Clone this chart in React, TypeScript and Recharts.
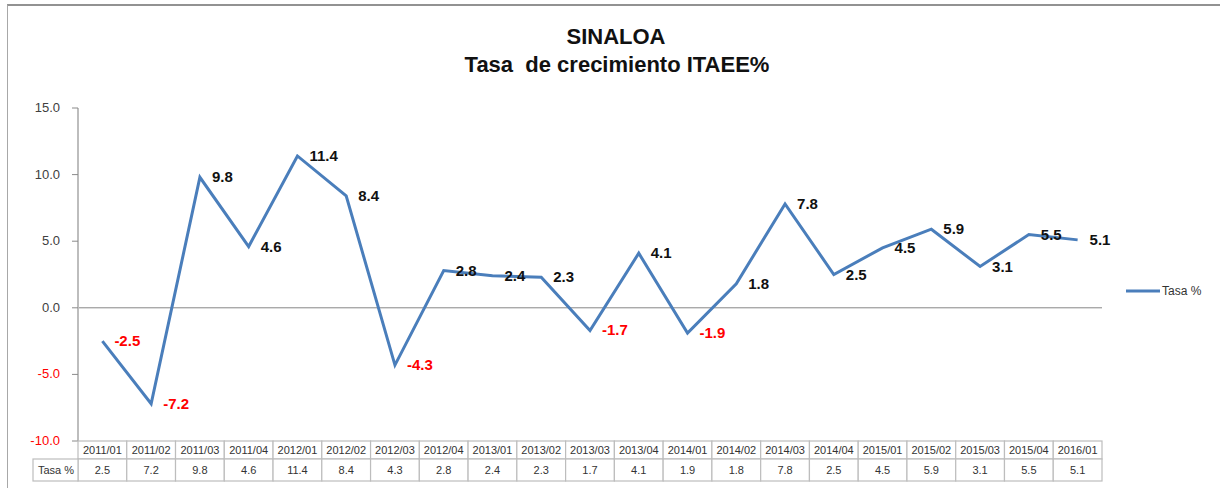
import React from 'react';
import { LineChart, Line, XAxis, YAxis, ReferenceLine, Legend, LabelList } from 'recharts';

const periods = [
  '2011/01', '2011/02', '2011/03', '2011/04', '2012/01', '2012/02', '2012/03',
  '2012/04', '2013/01', '2013/02', '2013/03', '2013/04', '2014/01', '2014/02',
  '2014/03', '2014/04', '2015/01', '2015/02', '2015/03', '2015/04', '2016/01',
];
const tasa = [
  -2.5, -7.2, 9.8, 4.6, 11.4, 8.4, -4.3, 2.8, 2.4, 2.3, -1.7, 4.1, -1.9, 1.8,
  7.8, 2.5, 4.5, 5.9, 3.1, 5.5, 5.1,
];
const yTicks = [-10, -5, 0, 5, 10, 15];

const chartData = periods.map((p, i) => ({ period: p, tasa: tasa[i] }));

const W = 1220;
const H = 488;
const MARGIN = { top: 108, right: 118, bottom: 0, left: 8 };
const Y_W = 70;
const X_H = 47;
const PLOT_W = W - MARGIN.left - MARGIN.right - Y_W;
const COL_W = PLOT_W / periods.length;
const ROW1 = 18;
const ROW2 = 22;

const BLUE = '#4A7EBB';
const GRID = '#BDBDBD';
const FONT = '"Liberation Sans", Arial, sans-serif';

const YTick = (props: any) => {
  const { x, y, payload } = props;
  return (
    <text x={x} y={y} dy={4} textAnchor="end" fontSize={13} fontFamily={FONT}
      fill={payload.value < 0 ? '#FF0000' : '#404040'}>
      {payload.value.toFixed(1)}
    </text>
  );
};

// x axis drawn as the data table under the plot
const TableTick = (props: any) => {
  const { x, y, payload, index } = props;
  const left = x - COL_W / 2;
  const v = tasa[index];
  return (
    <g>
      <rect x={left} y={y} width={COL_W} height={ROW1} fill="#fff" stroke={GRID} strokeWidth={1.2} />
      <rect x={left} y={y + ROW1} width={COL_W} height={ROW2} fill="#fff" stroke={GRID} strokeWidth={1.2} />
      <text x={x} y={y + ROW1 / 2 + 4} textAnchor="middle" fontSize={11} fontFamily={FONT} fill="#333">
        {payload.value}
      </text>
      <text x={x} y={y + ROW1 + ROW2 / 2 + 4} textAnchor="middle" fontSize={11} fontFamily={FONT} fill="#333">
        {v !== undefined ? Math.abs(v).toFixed(1) : ''}
      </text>
      {index === 0 && (
        <g>
          <rect x={left - 45} y={y + ROW1} width={45} height={ROW2} fill="#fff" stroke={GRID} strokeWidth={1.2} />
          <text x={left - 22} y={y + ROW1 + ROW2 / 2 + 4} textAnchor="middle" fontSize={11} fontFamily={FONT} fill="#333">
            Tasa %
          </text>
        </g>
      )}
    </g>
  );
};

const PointLabel = (props: any) => {
  const { x, y, value } = props;
  return (
    <text x={x + 12} y={y + 5} textAnchor="start" fontSize={15} fontWeight="bold" fontFamily={FONT}
      fill={value < 0 ? '#FF0000' : '#111'}>
      {Number(value).toFixed(1)}
    </text>
  );
};

const LegendBox = () => (
  <svg width={100} height={20}>
    <line x1={6} x2={40} y1={10} y2={10} stroke={BLUE} strokeWidth={3} />
    <text x={42} y={14} fontSize={12} fontFamily={FONT} fill="#333">Tasa %</text>
  </svg>
);

export default function App() {
  return (
    <div style={{ position: 'absolute', left: 0, top: 0, width: W, height: H, background: '#fff', overflow: 'hidden' }}>
      <div style={{ position: 'absolute', left: 7, top: 4, width: W, height: H, borderTop: '2px solid #929292', borderLeft: '1px solid #a8a8a8' }} />
      <div style={{ position: 'absolute', left: 0, top: 26, width: 1232, textAlign: 'center', fontFamily: FONT, fontWeight: 'bold', fontSize: 22, lineHeight: '22px', color: '#111' }}>
        SINALOA
      </div>
      <div style={{ position: 'absolute', left: 0, top: 54, width: 1234, textAlign: 'center', fontFamily: FONT, fontWeight: 'bold', fontSize: 22, lineHeight: '22px', color: '#111', whiteSpace: 'pre' }}>
        {'Tasa  de crecimiento ITAEE%'}
      </div>
      <div style={{ position: 'absolute', left: 0, top: 0 }}>
        <LineChart width={W} height={H} data={chartData} margin={MARGIN}>
          <XAxis dataKey="period" height={X_H} interval={0} axisLine={false} tickLine={false}
            padding={{ left: COL_W / 2, right: COL_W / 2 }}
            tickSize={0} tickMargin={0} tick={<TableTick />} />
          <YAxis width={Y_W} domain={[-10, 15]} ticks={yTicks} interval={0}
            axisLine={{ stroke: GRID, strokeWidth: 2 }} tickLine={{ stroke: '#8a8a8a' }}
            tickSize={6} tickMargin={12} tick={<YTick />} />
          <ReferenceLine y={0} stroke="#878787" strokeWidth={1} />
          <Legend layout="horizontal" verticalAlign="middle" align="center"
            wrapperStyle={{ left: 1120, top: 281, width: 100 }} content={<LegendBox />} />
          <Line type="linear" dataKey="tasa" name="Tasa %" stroke={BLUE} strokeWidth={3}
            dot={false} isAnimationActive={false}>
            <LabelList dataKey="tasa" content={<PointLabel />} />
          </Line>
        </LineChart>
      </div>
    </div>
  );
}
